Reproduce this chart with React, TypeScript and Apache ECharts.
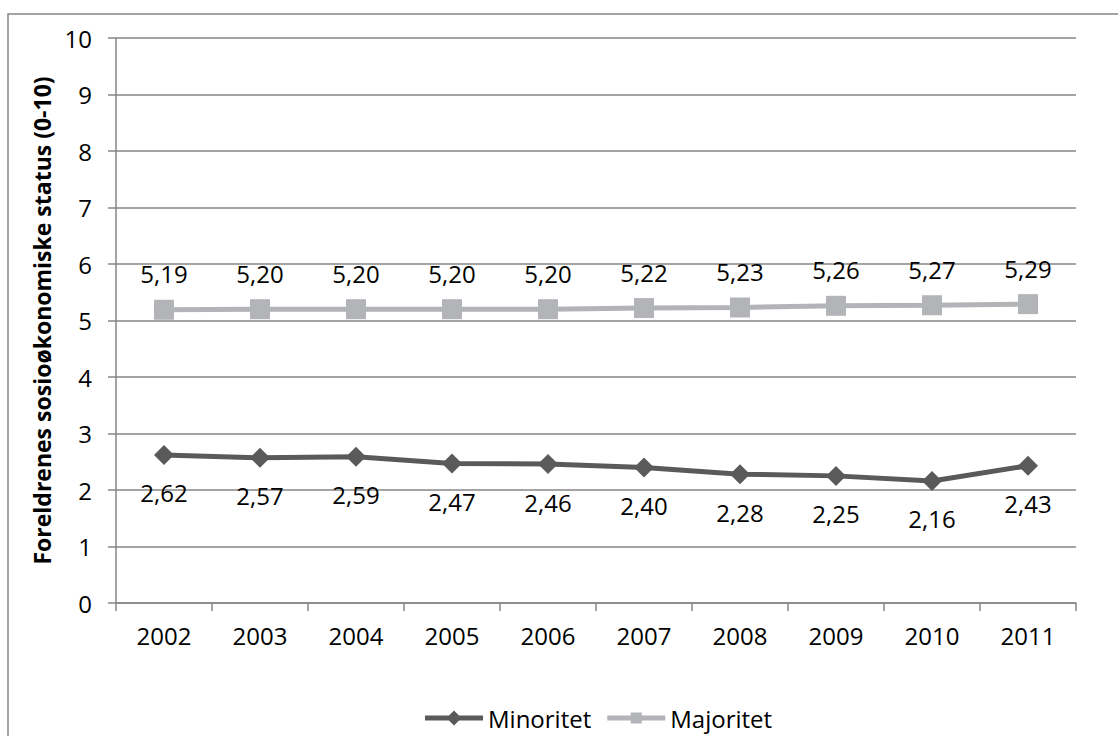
import React, { useEffect, useRef } from "react";
import * as echarts from "echarts";

const years = ["2002", "2003", "2004", "2005", "2006", "2007", "2008", "2009", "2010", "2011"];
const minoritet = [2.62, 2.57, 2.59, 2.47, 2.46, 2.4, 2.28, 2.25, 2.16, 2.43];
const majoritet = [5.19, 5.2, 5.2, 5.2, 5.2, 5.22, 5.23, 5.26, 5.27, 5.29];
const yAxisTitle = "Foreldrenes sosioøkonomiske status (0-10)";

const FONT = "'Open Sans', 'Noto Sans', sans-serif";
const GRID = "#868686";
const DARK = "#5a5a5a";
const LIGHT = "#b3b4b7";

const ICON_MIN = "path://M0,7.5 L58,7.5 L58,12.5 L0,12.5 Z M29,2.5 L36.5,10 L29,17.5 L21.5,10 Z";
const ICON_MAJ = "path://M0,7.5 L58,7.5 L58,12.5 L0,12.5 Z M23.5,4.5 L34.5,4.5 L34.5,15.5 L23.5,15.5 Z";

const fmt = (v: number) => v.toFixed(2).replace(".", ",");

export default function App() {
  const ref = useRef<HTMLDivElement>(null);
  useEffect(() => {
    if (!ref.current) return;
    const chart = echarts.init(ref.current, undefined, { renderer: "svg" });
    chart.setOption({
      animation: false,
      backgroundColor: "#ffffff",
      textStyle: { fontFamily: FONT },
      graphic: [
        {
          type: "rect",
          shape: { x: 8, y: 14, width: 1300, height: 900 },
          style: { fill: "none", stroke: GRID, lineWidth: 1.5 },
          silent: true,
        },
      ],
      grid: { left: 116, right: 42, top: 38, bottom: 133 },
      legend: {
        top: 701,
        left: 420,
        itemWidth: 58,
        itemHeight: 20,
        itemGap: 16,
        textStyle: { fontFamily: FONT, fontSize: 24, color: "#000" },
        data: [
          { name: "Minoritet", icon: ICON_MIN, itemStyle: { color: DARK } },
          { name: "Majoritet", icon: ICON_MAJ, itemStyle: { color: LIGHT } },
        ],
      },
      xAxis: {
        type: "category",
        data: years,
        boundaryGap: true,
        axisLine: { lineStyle: { color: GRID, width: 1.5 } },
        axisTick: { show: true, length: 8, alignWithLabel: false, lineStyle: { color: GRID, width: 1.5 } },
        axisLabel: { color: "#000", fontSize: 24, fontFamily: FONT, margin: 20 },
      },
      yAxis: {
        type: "value",
        min: 0,
        max: 10,
        interval: 1,
        name: yAxisTitle,
        nameLocation: "middle",
        nameGap: 48,
        nameTextStyle: { fontFamily: FONT, fontSize: 23, fontWeight: "bold", color: "#000" },
        axisLine: { show: true, lineStyle: { color: GRID, width: 1.5 } },
        axisTick: { show: true, length: 8, lineStyle: { color: GRID, width: 1.5 } },
        axisLabel: { color: "#000", fontSize: 24, fontFamily: FONT, margin: 24 },
        splitLine: { show: true, lineStyle: { color: GRID, width: 1.5 } },
      },
      series: [
        {
          name: "Minoritet",
          type: "line",
          data: minoritet,
          color: DARK,
          lineStyle: { width: 5, color: DARK },
          symbol: "diamond",
          symbolSize: 20,
          itemStyle: { color: DARK },
          label: {
            show: true,
            position: "bottom",
            distance: 16,
            color: "#000",
            fontSize: 24,
            fontFamily: FONT,
            formatter: (p: any) => fmt(p.value),
          },
        },
        {
          name: "Majoritet",
          type: "line",
          data: majoritet,
          color: LIGHT,
          lineStyle: { width: 5, color: LIGHT },
          symbol: "rect",
          symbolSize: 20,
          itemStyle: { color: LIGHT },
          label: {
            show: true,
            position: "top",
            distance: 14,
            color: "#000",
            fontSize: 24,
            fontFamily: FONT,
            formatter: (p: any) => fmt(p.value),
          },
        },
      ],
    });
    return () => chart.dispose();
  }, []);
  return (
    <div
      ref={ref}
      style={{ position: "fixed", left: 0, top: 0, width: 1118, height: 736 }}
    />
  );
}
